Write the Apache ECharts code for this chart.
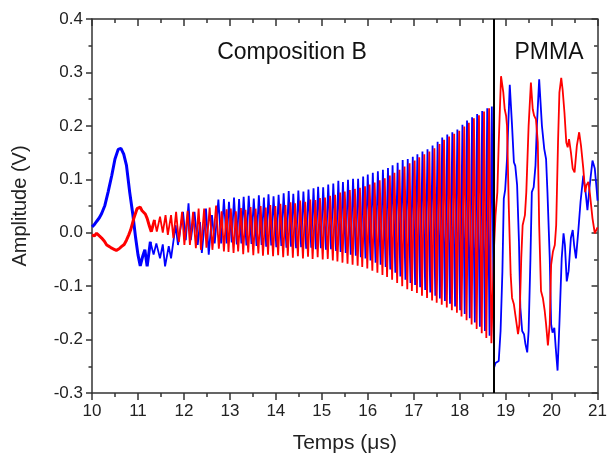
<!DOCTYPE html>
<html>
<head>
<meta charset="utf-8">
<script src="https://cdn.jsdelivr.net/npm/echarts@6/dist/echarts.min.js"></script>
<style>html,body{margin:0;padding:0;background:#fff}#c{width:610px;height:459px}</style>
</head>
<body>
<div id="c"></div>
<script>
// ---- data (time in µs, amplitude in V) ----
const xTicks = [10, 11, 12, 13, 14, 15, 16, 17, 18, 19, 20, 21];
const yTicks = [-0.3, -0.2, -0.1, 0.0, 0.1, 0.2, 0.3, 0.4];
const interfaceTime = 18.75;
const labelCompB = 'Composition B';
const labelPMMA = 'PMMA';

// blue trace: start pulse
const blueStart = [[10.00,0.011],[10.05,0.015],[10.10,0.021],[10.16,0.028],[10.21,0.036],[10.28,0.051],[10.35,0.076],[10.43,0.107],[10.50,0.138],[10.57,0.156],[10.63,0.158],[10.69,0.147],[10.75,0.126],[10.82,0.076],[10.89,0.033],[10.95,-0.010],[11.00,-0.041],[11.05,-0.062],[11.10,-0.045],[11.15,-0.032],[11.20,-0.063]];
// blue trace: composition B ringing
const blueCompB = [[11.27,-0.017],[11.34,-0.041],[11.40,-0.020],[11.48,-0.048],[11.54,-0.022],[11.59,-0.063],[11.67,-0.025],[11.72,-0.048],[11.82,0.014],[11.87,-0.023],[11.98,0.039],[12.04,-0.014],[12.10,0.055],[12.15,-0.014],[12.23,0.039],[12.30,-0.023],[12.35,0.020],[12.39,-0.038],[12.48,0.045],[12.54,-0.041],[12.61,0.033],[12.67,-0.020],[12.75,0.062],[12.81,-0.020],[12.87,0.063],[12.93,-0.020],
[12.98,0.058],[13.04,-0.018],[13.09,0.066],[13.15,-0.022],[13.20,0.063],[13.25,-0.020],[13.30,0.067],[13.36,-0.024],[13.41,0.069],[13.47,-0.021],[13.52,0.064],[13.58,-0.025],[13.63,0.070],[13.69,-0.023],[13.74,0.066],[13.79,-0.026],[13.84,0.072],[13.90,-0.024],[13.95,0.068],[14.01,-0.027],[14.06,0.071],[14.12,-0.025],[14.17,0.074],[14.23,-0.028],[14.28,0.078],[14.33,-0.026],[14.38,0.073],[14.44,-0.029],[14.49,0.079],[14.55,-0.027],[14.60,0.077],[14.66,-0.030],[14.71,0.081],[14.77,-0.028],[14.82,0.083],[14.87,-0.031],[14.92,0.086],[14.98,-0.029],
[15.03,0.085],[15.09,-0.032],[15.14,0.090],[15.20,-0.031],[15.25,0.092],[15.31,-0.034],[15.36,0.097],[15.41,-0.036],[15.46,0.095],[15.52,-0.038],[15.57,0.099],[15.63,-0.041],[15.68,0.101],[15.74,-0.043],[15.79,0.101],[15.85,-0.046],[15.90,0.105],[15.95,-0.048],[16.00,0.109],[16.06,-0.052],[16.11,0.112],[16.17,-0.056],[16.22,0.115],[16.28,-0.060],[16.33,0.118],[16.39,-0.064],[16.44,0.121],[16.49,-0.069],[16.54,0.126],[16.60,-0.075],[16.65,0.131],[16.71,-0.082],[16.76,0.136],[16.82,-0.088],[16.87,0.138],[16.93,-0.094],[16.98,0.142],
[17.03,-0.098],[17.08,0.147],[17.14,-0.102],[17.19,0.152],[17.25,-0.107],[17.30,0.156],[17.36,-0.112],[17.41,0.163],[17.47,-0.118],[17.52,0.170],[17.57,-0.123],[17.62,0.178],[17.68,-0.128],[17.73,0.184],[17.79,-0.133],[17.84,0.188],[17.90,-0.138],[17.95,0.193],[18.01,-0.145],[18.06,0.202],[18.11,-0.152],[18.16,0.210],[18.22,-0.160],[18.27,0.216],[18.33,-0.168],[18.38,0.222],[18.44,-0.176],[18.49,0.228],[18.55,-0.184],[18.60,0.233],[18.65,-0.193],[18.70,0.236]];
// blue trace: PMMA
const bluePMMA = [[18.75,-0.252],[18.78,-0.244],[18.82,-0.247],[18.85,-0.240],[18.89,-0.184],[18.93,-0.072],[18.96,0.064],[18.99,0.080],[19.03,0.138],[19.09,0.277],[19.14,0.200],[19.18,0.132],[19.21,0.125],[19.25,0.089],[19.29,-0.016],[19.32,-0.140],[19.36,-0.184],[19.40,-0.190],[19.43,-0.208],[19.47,-0.224],[19.50,-0.184],[19.54,-0.048],[19.57,0.076],[19.61,0.085],[19.65,0.126],[19.68,0.200],[19.73,0.287],[19.79,0.200],[19.84,0.157],[19.88,0.138],[19.91,0.076],[19.96,-0.048],[19.99,-0.171],[20.02,-0.187],[20.06,-0.178],[20.09,-0.215],[20.13,-0.258],[20.17,-0.171],[20.22,-0.048],[20.26,-0.001],[20.29,-0.023],[20.33,-0.091],[20.37,-0.072],[20.42,-0.010],[20.46,0.005],[20.49,-0.023],[20.53,-0.048],[20.58,0.002],[20.63,0.058],[20.69,0.107],[20.74,0.076],[20.78,0.042],[20.83,0.089],[20.89,0.135],[20.94,0.120],[20.98,0.082],[21.00,0.060]];

// red trace: start
const redStart = [[10.00,-0.004],[10.05,-0.006],[10.10,-0.001],[10.16,-0.006],[10.21,-0.010],[10.27,-0.016],[10.32,-0.023],[10.38,-0.026],[10.43,-0.029],[10.48,-0.031],[10.53,-0.033],[10.59,-0.030],[10.64,-0.026],[10.70,-0.022],[10.75,-0.014],[10.80,-0.004],[10.84,0.005],[10.91,0.027],[10.98,0.045],[11.02,0.042],[11.05,0.048],[11.09,0.041],[11.12,0.039],[11.16,0.035],[11.20,0.027],[11.25,0.012],[11.29,0.002]];
// red trace: composition B ringing
const redCompB = [[11.36,0.024],[11.41,0.002],[11.48,0.030],[11.54,0.000],[11.60,0.033],[11.65,-0.004],[11.72,0.033],[11.77,-0.010],[11.83,0.039],[11.89,-0.017],[11.96,0.039],[12.01,-0.023],[12.08,0.041],[12.13,-0.023],[12.20,0.039],[12.26,-0.029],[12.32,0.045],[12.37,-0.032],[12.44,0.045],[12.49,-0.028],[12.56,0.047],[12.62,-0.032],[12.70,0.051],[12.76,-0.030],[12.82,0.040],[12.87,-0.035],[12.93,0.044],
[12.97,-0.036],[13.02,0.045],[13.08,-0.038],[13.13,0.040],[13.18,-0.035],[13.24,0.046],[13.29,-0.040],[13.34,0.043],[13.40,-0.037],[13.45,0.048],[13.51,-0.042],[13.56,0.045],[13.62,-0.039],[13.67,0.050],[13.72,-0.043],[13.78,0.047],[13.83,-0.041],[13.88,0.052],[13.94,-0.044],[13.99,0.050],[14.05,-0.042],[14.10,0.054],[14.16,-0.046],[14.21,0.052],[14.26,-0.043],[14.32,0.057],[14.37,-0.047],[14.42,0.055],[14.48,-0.044],[14.53,0.060],[14.59,-0.048],[14.64,0.058],[14.70,-0.045],[14.75,0.062],[14.80,-0.049],[14.86,0.061],[14.91,-0.046],[14.96,0.065],
[15.02,-0.050],[15.07,0.066],[15.13,-0.049],[15.18,0.069],[15.24,-0.052],[15.29,0.071],[15.34,-0.054],[15.40,0.075],[15.45,-0.056],[15.50,0.077],[15.56,-0.058],[15.61,0.080],[15.67,-0.060],[15.72,0.082],[15.78,-0.062],[15.83,0.084],[15.88,-0.064],[15.94,0.087],[15.99,-0.067],[16.04,0.090],[16.10,-0.071],[16.15,0.094],[16.21,-0.075],[16.26,0.098],[16.32,-0.079],[16.37,0.102],[16.42,-0.083],[16.48,0.107],[16.53,-0.088],[16.58,0.112],[16.64,-0.094],[16.69,0.118],[16.75,-0.100],[16.80,0.124],[16.86,-0.106],[16.91,0.130],[16.96,-0.109],
[17.02,0.135],[17.07,-0.113],[17.12,0.141],[17.18,-0.118],[17.23,0.147],[17.29,-0.122],[17.34,0.152],[17.40,-0.127],[17.45,0.158],[17.50,-0.131],[17.56,0.166],[17.61,-0.135],[17.66,0.174],[17.72,-0.140],[17.77,0.180],[17.83,-0.145],[17.88,0.185],[17.94,-0.150],[17.99,0.191],[18.04,-0.157],[18.10,0.199],[18.15,-0.164],[18.20,0.206],[18.26,-0.172],[18.31,0.214],[18.37,-0.180],[18.42,0.220],[18.48,-0.188],[18.53,0.227],[18.58,-0.197],[18.64,0.233],[18.69,-0.207]];
// red trace: PMMA
const redPMMA = [[18.75,-0.023],[18.78,0.033],[18.82,0.076],[18.85,0.169],[18.90,0.293],[18.95,0.262],[18.98,0.231],[19.01,0.219],[19.03,0.200],[19.07,0.045],[19.11,-0.079],[19.14,-0.122],[19.18,-0.134],[19.21,-0.153],[19.27,-0.190],[19.30,-0.171],[19.34,-0.048],[19.37,0.014],[19.42,0.033],[19.45,0.076],[19.50,0.200],[19.55,0.281],[19.59,0.231],[19.62,0.219],[19.66,0.212],[19.70,0.169],[19.73,0.014],[19.77,-0.109],[19.81,-0.122],[19.85,-0.146],[19.88,-0.171],[19.92,-0.211],[19.96,-0.171],[19.99,-0.060],[20.03,-0.035],[20.07,-0.023],[20.10,0.014],[20.14,0.169],[20.17,0.262],[20.21,0.290],[20.24,0.268],[20.28,0.225],[20.32,0.169],[20.35,0.160],[20.38,0.175],[20.42,0.151],[20.46,0.120],[20.50,0.113],[20.55,0.163],[20.60,0.188],[20.64,0.163],[20.69,0.120],[20.73,0.076],[20.76,0.089],[20.80,0.095],[20.83,0.076],[20.89,0.027],[20.94,-0.001],[20.98,-0.004],[21.00,0.010]];

// ---- chart ----
const FONT = '"Liberation Sans", Arial, sans-serif';
const AX = '#333';
const chart = echarts.init(document.getElementById('c'), null, {renderer: 'canvas'});

function xAxisDef(top) {
  return {
    type: 'value', min: xTicks[0], max: xTicks[xTicks.length - 1], interval: 1,
    position: top ? 'top' : 'bottom',
    axisLine: {show: true, onZero: false, lineStyle: {color: AX, width: 1.5}},
    axisTick: {show: true, inside: top, length: 7, lineStyle: {color: AX, width: 1.5}},
    minorTick: {show: true, splitNumber: 2, length: 4, lineStyle: {color: AX, width: 1.5}},
    splitLine: {show: false},
    axisLabel: {show: !top, fontSize: 17, color: '#222', fontFamily: FONT, margin: 10},
    name: top ? '' : 'Temps (μs)', nameLocation: 'middle', nameGap: 40,
    nameTextStyle: {fontSize: 21, color: '#222', fontFamily: FONT}
  };
}
function yAxisDef(right) {
  return {
    type: 'value', min: yTicks[0], max: yTicks[yTicks.length - 1], interval: 0.1,
    position: right ? 'right' : 'left',
    axisLine: {show: true, onZero: false, lineStyle: {color: AX, width: 1.5}},
    axisTick: {show: true, inside: right, length: 6, lineStyle: {color: AX, width: 1.5}},
    minorTick: {show: true, splitNumber: 2, length: 3.5, lineStyle: {color: AX, width: 1.5}},
    splitLine: {show: false},
    axisLabel: {show: !right, fontSize: 17, color: '#222', fontFamily: FONT, margin: 9,
      formatter: v => (Math.abs(v) < 1e-9 ? 0 : v).toFixed(1)},
    name: right ? '' : 'Amplitude (V)', nameLocation: 'middle', nameGap: 62,
    nameTextStyle: {fontSize: 20, color: '#222', fontFamily: FONT}
  };
}
function trace(data, color, width, z) {
  return {type: 'line', data: data, showSymbol: false, symbol: 'none', z: z,
    lineStyle: {color: color, width: width}, itemStyle: {color: color}, animation: false};
}

chart.setOption({
  animation: false,
  grid: {left: 92, right: 8, top: 19, bottom: 63},
  xAxis: [xAxisDef(false), xAxisDef(true)],
  yAxis: [yAxisDef(false), yAxisDef(true)],
  series: [
    trace(blueStart.concat([blueCompB[0]]), '#0000ff', 3, 2),
    trace(blueCompB.concat(bluePMMA), '#0000ff', 1.8, 2),
    trace(redStart.concat([redCompB[0]]), '#ff0000', 3, 3),
    Object.assign(trace(redCompB.concat(redPMMA), '#ff0000', 1.8, 3), {
      markLine: {silent: true, symbol: 'none', label: {show: false},
        lineStyle: {color: '#000', width: 2, type: 'solid'},
        data: [{xAxis: interfaceTime}]}
    })
  ],
  graphic: [
    {type: 'text', style: {x: 292, y: 53, text: labelCompB, fontSize: 23, fontFamily: FONT, fill: '#111', textAlign: 'center', textVerticalAlign: 'middle'}},
    {type: 'text', style: {x: 549, y: 53, text: labelPMMA, fontSize: 23, fontFamily: FONT, fill: '#111', textAlign: 'center', textVerticalAlign: 'middle'}}
  ]
});
</script>
</body>
</html>
